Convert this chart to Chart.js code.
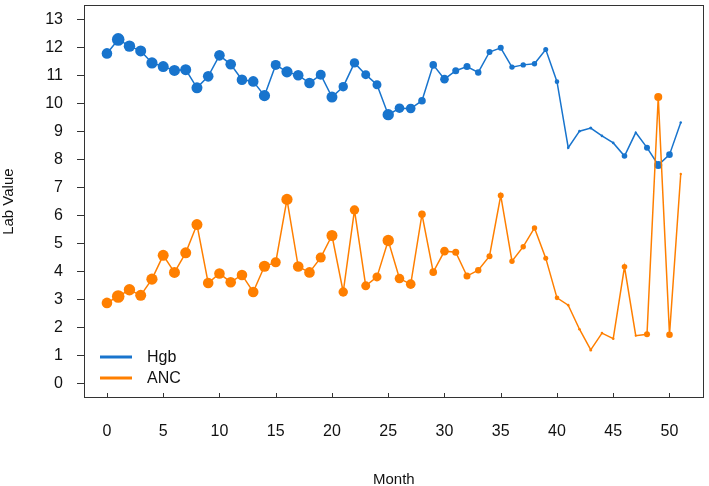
<!DOCTYPE html>
<html>
<head>
<meta charset="utf-8">
<script src="https://cdn.jsdelivr.net/npm/chart.js@4/dist/chart.umd.min.js"></script>
<style>
  html, body { margin: 0; padding: 0; background: #fff; }
  #wrap { width: 709px; height: 486px; }
</style>
</head>
<body>
<div id="wrap"><canvas id="c" width="709" height="486"></canvas></div>
<script>
const months = [0,1,2,3,4,5,6,7,8,9,10,11,12,13,14,15,16,17,18,19,20,21,22,23,24,25,26,27,28,29,30,31,32,33,34,35,36,37,38,39,40,41,42,43,44,45,46,47,48,49,50,51];
const hgb = [11.80,12.30,12.06,11.89,11.46,11.33,11.19,11.22,10.57,10.98,11.73,11.41,10.86,10.80,10.29,11.39,11.14,11.02,10.74,11.04,10.24,10.61,11.46,11.04,10.68,9.61,9.84,9.83,10.11,11.39,10.88,11.18,11.33,11.12,11.85,12.00,11.31,11.39,11.43,11.94,10.79,8.43,9.02,9.13,8.85,8.60,8.13,8.97,8.43,7.81,8.18,9.33];
const anc = [2.88,3.11,3.35,3.15,3.73,4.58,3.97,4.67,5.68,3.59,3.93,3.62,3.88,3.27,4.19,4.33,6.58,4.18,3.97,4.50,5.29,3.27,6.20,3.49,3.81,5.11,3.75,3.55,6.05,3.98,4.73,4.69,3.84,4.05,4.55,6.72,4.37,4.89,5.56,4.48,3.06,2.80,1.94,1.20,1.80,1.60,4.17,1.71,1.76,10.24,1.74,7.49];
const xTicks = [0,5,10,15,20,25,30,35,40,45,50];
const yTicks = [0,1,2,3,4,5,6,7,8,9,10,11,12,13];
const seriesNames = ['Hgb','ANC'];

// marker radius per month (style only)
const markerRadius = [5.3,6.3,5.7,5.5,5.6,5.5,5.5,5.5,5.5,5.3,5.3,5.3,5.3,5.3,5.6,5.0,5.6,5.3,5.3,5.0,5.5,4.7,4.7,4.5,4.5,5.7,4.8,4.8,3.8,3.8,4.3,3.5,3.5,3.2,3.0,3.0,2.7,2.7,2.7,2.5,2.3,1.3,1.3,1.5,1.3,1.3,2.8,1.1,3.0,4.0,3.3,1.2];

const BLUE = '#1874CD';
const ORANGE = '#FF7F00';
const AXIS = '#333333';
const FONT = "'Liberation Sans', Arial, sans-serif";

const toPts = arr => months.map((m, i) => ({x: m, y: arr[i]}));

const boxPlugin = {
  id: 'boxPlugin',
  afterDraw(chart) {
    const ctx = chart.ctx, a = chart.chartArea;
    const xs = chart.scales.x;
    ctx.save();
    ctx.strokeStyle = AXIS;
    ctx.lineWidth = 1;
    ctx.strokeRect(Math.round(a.left) + 0.5, Math.round(a.top) + 0.5,
                   Math.round(a.right - a.left) - 1, Math.round(a.bottom - a.top) - 1);
    // inward x tick marks
    ctx.beginPath();
    xTicks.forEach(v => {
      const px = Math.round(xs.getPixelForValue(v)) + 0.5;
      ctx.moveTo(px, a.bottom);
      ctx.lineTo(px, a.bottom - 5);
    });
    ctx.stroke();
    // legend
    const colors = [BLUE, ORANGE];
    const rows = [357, 378];
    ctx.font = '16px ' + FONT;
    ctx.textBaseline = 'middle';
    ctx.textAlign = 'left';
    seriesNames.forEach((name, i) => {
      ctx.strokeStyle = colors[i];
      ctx.lineWidth = 3;
      ctx.beginPath();
      ctx.moveTo(100, rows[i]);
      ctx.lineTo(132, rows[i]);
      ctx.stroke();
      ctx.fillStyle = '#111';
      ctx.fillText(name, 147, rows[i] + 1);
    });
    ctx.restore();
  }
};

new Chart(document.getElementById('c'), {
  type: 'line',
  data: {
    datasets: [
      {
        label: seriesNames[0],
        data: toPts(hgb),
        borderColor: BLUE,
        backgroundColor: BLUE,
        borderWidth: 1.5,
        pointRadius: ctx => markerRadius[ctx.dataIndex],
        pointBorderWidth: 0,
        pointBackgroundColor: BLUE,
        tension: 0,
        order: 2
      },
      {
        label: seriesNames[1],
        data: toPts(anc),
        borderColor: ORANGE,
        backgroundColor: ORANGE,
        borderWidth: 1.5,
        pointRadius: ctx => markerRadius[ctx.dataIndex],
        pointBorderWidth: 0,
        pointBackgroundColor: ORANGE,
        tension: 0,
        order: 1
      }
    ]
  },
  options: {
    responsive: false,
    animation: false,
    devicePixelRatio: 1,
    layout: { padding: { left: 0, top: 3, right: 3, bottom: 0 } },
    plugins: {
      legend: { display: false },
      tooltip: { enabled: false }
    },
    scales: {
      x: {
        type: 'linear',
        min: -2.04,
        max: 53.04,
        afterFit: s => { s.height = 88; s.paddingLeft = 0; s.paddingRight = 0; },
        afterBuildTicks: s => { s.ticks = xTicks.map(v => ({value: v})); },
        grid: { display: false, drawTicks: false },
        border: { display: false },
        ticks: {
          padding: 24,
          color: '#111',
          font: { family: FONT, size: 16 },
          maxRotation: 0,
          autoSkip: false
        },
        title: {
          display: true,
          text: 'Month',
          color: '#111',
          font: { family: FONT, size: 15 },
          padding: { top: 0, bottom: -3 }
        }
      },
      y: {
        type: 'linear',
        min: -0.52,
        max: 13.52,
        afterFit: s => { s.width = 84; s.paddingTop = 0; s.paddingBottom = 0; },
        afterBuildTicks: s => { s.ticks = yTicks.map(v => ({value: v})); },
        grid: {
          display: true,
          drawOnChartArea: false,
          drawTicks: true,
          tickLength: 7,
          color: AXIS
        },
        border: { display: false },
        ticks: {
          padding: 14,
          color: '#111',
          font: { family: FONT, size: 16 },
          autoSkip: false
        },
        title: {
          display: true,
          text: 'Lab Value',
          color: '#111',
          font: { family: FONT, size: 15 },
          padding: { top: 0, bottom: 0 }
        }
      }
    }
  },
  plugins: [boxPlugin]
});
</script>
</body>
</html>
